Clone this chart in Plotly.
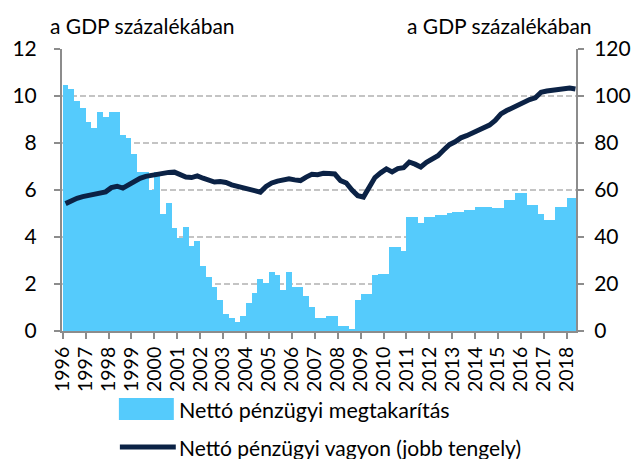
import plotly.graph_objects as go

# Quarterly series, 1996 Q1 - 2018 Q2
start_year = 1996
savings = [
    10.48, 10.28, 9.80, 9.50,
    8.91, 8.65, 9.33, 9.10,
    9.33, 9.33, 8.33, 8.22,
    7.54, 6.77, 6.77, 6.00,
    6.77, 5.00, 5.43, 4.38,
    3.95, 4.43, 3.60, 3.84,
    2.77, 2.30, 1.86, 1.31,
    0.71, 0.54, 0.40, 0.65,
    1.19, 1.63, 2.23, 2.05,
    2.52, 2.39, 1.75, 2.49,
    1.86, 1.86, 1.51, 1.01,
    0.54, 0.54, 0.62, 0.62,
    0.23, 0.23, 0.07, 1.32,
    1.58, 1.58, 2.37, 2.42,
    2.42, 3.58, 3.58, 3.41,
    4.86, 4.86, 4.59, 4.85,
    4.85, 4.95, 4.95, 5.04,
    5.06, 5.06, 5.16, 5.16,
    5.29, 5.29, 5.27, 5.25,
    5.25, 5.57, 5.57, 5.87,
    5.87, 5.36, 5.36, 4.98,
    4.71, 4.71, 5.26, 5.26,
    5.67, 5.67,
]
wealth = [
    54.2, 55.6, 56.5, 57.2,
    57.6, 58.0, 58.6, 59.2,
    61.0, 61.6, 60.8, 62.4,
    63.8, 65.0, 65.8, 66.3,
    66.9, 67.2, 67.5, 67.6,
    66.6, 65.5, 65.3, 66.0,
    65.0, 64.0, 63.4, 63.6,
    63.2, 62.2, 61.6, 60.9,
    60.4, 59.7, 59.1, 61.5,
    63.0, 63.8, 64.1, 64.8,
    64.3, 64.0, 65.5, 66.7,
    66.5, 67.1, 67.0, 66.8,
    64.0, 63.0, 60.0, 57.6,
    57.0, 61.5, 65.3, 67.3,
    69.0, 67.7, 69.1, 69.5,
    71.9, 71.0, 69.8, 71.8,
    73.0, 74.6, 77.0, 79.3,
    80.5, 82.2, 83.1, 84.2,
    85.6, 86.8, 87.6, 89.6,
    92.4, 93.8, 95.0, 96.2,
    97.6, 98.5, 99.2, 101.6,
    102.1, 102.3, 102.7, 103.1,
    103.4, 103.0,
]
year_ticks = list(range(1996, 2019))
left_ticks = [0, 2, 4, 6, 8, 10, 12]
right_ticks = [0, 20, 40, 60, 80, 100, 120]

axis_title = "a GDP százalékában"
bar_name = "Nettó pénzügyi megtakarítás"
line_name = "Nettó pénzügyi vagyon (jobb tengely)"

BAR_COLOR = "#55CBFC"
LINE_COLOR = "#0B2245"
AXIS_COLOR = "#8C8C8C"
GRID_COLOR = "#C4C4C4"
FONT = "Lato"

# quarter centres on a continuous year axis
xq = [start_year + (i + 0.5) / 4 for i in range(len(savings))]

W, H = 643, 459
L, R, T, B = 61, 585, 49, 331


def px(x):
    return (x - L) / (R - L)


def py(y):
    return (B - y) / (B - T)


fig = go.Figure()
fig.add_trace(go.Bar(
    x=xq, y=savings, width=0.25, name=bar_name,
    marker=dict(color=BAR_COLOR, line=dict(width=0)),
    showlegend=False,
))
fig.add_trace(go.Scatter(
    x=xq, y=wealth, yaxis="y2", mode="lines", name=line_name,
    line=dict(color=LINE_COLOR, width=5),
    showlegend=False,
))

fig.update_layout(
    width=W, height=H,
    margin=dict(l=L, r=W - R, t=T, b=H - B, pad=0),
    paper_bgcolor="white", plot_bgcolor="white",
    font=dict(family=FONT, size=20, color="black"),
    bargap=0,
    xaxis=dict(
        range=[1995.97, 2018.4],
        tickmode="array", tickvals=year_ticks,
        ticktext=[str(y) for y in year_ticks],
        tickangle=-90, tickfont=dict(size=19.5),
        ticks="outside", ticklen=6, tickwidth=1.5, tickcolor=AXIS_COLOR,
        showline=True, linecolor=AXIS_COLOR, linewidth=2,
        showgrid=False, zeroline=False,
    ),
    yaxis=dict(
        range=[0, 12], tickmode="array", tickvals=left_ticks,
        ticks="outside", ticklen=6, tickwidth=1.5, tickcolor=AXIS_COLOR,
        ticklabelstandoff=13, tickfont=dict(size=21),
        showline=True, linecolor=AXIS_COLOR, linewidth=2,
        showgrid=True, gridcolor=GRID_COLOR, gridwidth=1.5,
        griddash="6px,3px", zeroline=False,
    ),
    yaxis2=dict(
        range=[0, 120], tickmode="array", tickvals=right_ticks,
        overlaying="y", side="right",
        ticks="outside", ticklen=6, tickwidth=1.5, tickcolor=AXIS_COLOR,
        ticklabelstandoff=6, tickfont=dict(size=21),
        showline=True, linecolor=AXIS_COLOR, linewidth=2,
        showgrid=False, zeroline=False,
    ),
)

# axis unit titles
fig.add_annotation(text=axis_title, xref="paper", yref="paper",
                   x=px(47), y=py(25), xanchor="left", yanchor="middle",
                   showarrow=False, font=dict(size=21))
fig.add_annotation(text=axis_title, xref="paper", yref="paper",
                   x=px(603), y=py(25), xanchor="right", yanchor="middle",
                   showarrow=False, font=dict(size=21))

# legend drawn below the plot
fig.add_shape(type="rect", xref="paper", yref="paper",
              x0=px(119), x1=px(175), y0=py(420), y1=py(398),
              fillcolor=BAR_COLOR, line=dict(width=0))
fig.add_shape(type="line", xref="paper", yref="paper",
              x0=px(120), x1=px(177), y0=py(447), y1=py(447),
              line=dict(color=LINE_COLOR, width=5))
fig.add_annotation(text=bar_name, xref="paper", yref="paper",
                   x=px(178), y=py(410), xanchor="left", yanchor="middle",
                   showarrow=False, font=dict(size=21.5))
fig.add_annotation(text=line_name, xref="paper", yref="paper",
                   x=px(178), y=py(447), xanchor="left", yanchor="middle",
                   showarrow=False, font=dict(size=21))

fig.write_html("out.html")
